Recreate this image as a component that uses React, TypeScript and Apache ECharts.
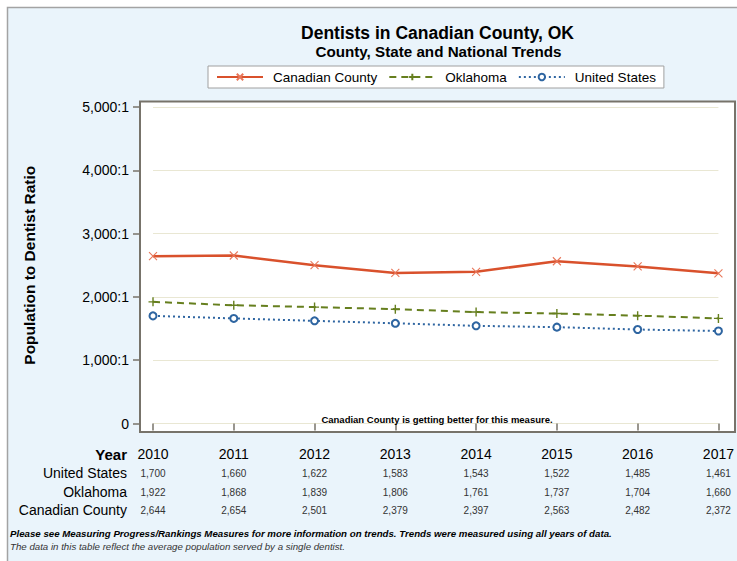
import React, { useEffect, useRef } from "react";
import * as echarts from "echarts";

const years = ["2010", "2011", "2012", "2013", "2014", "2015", "2016", "2017"];
const canadianCounty = [2644, 2654, 2501, 2379, 2397, 2563, 2482, 2372];
const oklahoma = [1922, 1868, 1839, 1806, 1761, 1737, 1704, 1660];
const unitedStates = [1700, 1660, 1622, 1583, 1543, 1522, 1485, 1461];
const seriesNames = ["Canadian County", "Oklahoma", "United States"];
const rowNames = ["United States", "Oklahoma", "Canadian County"];

const fmt = (v: number) => v.toLocaleString("en-US");

const FONT = "'Liberation Sans', Arial, sans-serif";
const RED = "#D9512C";
const OLIVE = "#667F1E";
const BLUE = "#2E65A1";
const FRAME = "#77736A";

const X_SYM = "path://M0,0L10,10M0,10L10,0";
const PLUS_SYM = "path://M5,0L5,10M0,5L10,5";

export default function App() {
  const ref = useRef<HTMLDivElement>(null);
  useEffect(() => {
    if (!ref.current) return;
    const chart = echarts.init(ref.current, undefined, { renderer: "svg" });
    const tableAxis = (data: string[], offset: number, name: string, bold = false, size = 10, color = "#333") => ({
      type: "category",
      data,
      boundaryGap: false,
      position: "bottom",
      offset,
      axisLine: { show: false },
      axisTick: { show: false },
      splitLine: { show: false },
      axisLabel: {
        show: true,
        margin: 0,
        verticalAlign: "middle",
        fontSize: size,
        color,
        fontFamily: FONT,
        interval: 0,
      },
      name,
      nameLocation: "start",
      nameGap: 26,
      nameTextStyle: {
        fontSize: bold ? 15 : 14,
        fontWeight: bold ? "bold" : "normal",
        color: "#000",
        fontFamily: FONT,
        align: "right",
        verticalAlign: "middle",
      },
    });
    chart.setOption({
      animation: false,
      backgroundColor: "#ffffff",
      legend: {
        data: seriesNames,
        left: 208,
        top: 66,
        padding: [4, 8, 4, 8],
        itemWidth: 46,
        itemHeight: 8,
        itemGap: 11,
        backgroundColor: "#ffffff",
        borderColor: "#A0A0A0",
        borderWidth: 1,
        borderRadius: 0,
        textStyle: { fontSize: 13.5, color: "#000", fontFamily: FONT, padding: [0, 0, 0, 5] },
      },
      grid: { left: 153, right: 17, top: 107, bottom: 137.5, containLabel: false },
      xAxis: [
        {
          type: "category",
          data: years,
          boundaryGap: false,
          position: "bottom",
          offset: 8.5,
          axisLine: { show: false },
          axisTick: { show: true, length: 7, inside: false, lineStyle: { color: FRAME, width: 1.5 } },
          axisLabel: { show: false },
          splitLine: { show: false },
        },
        tableAxis(years, 30.5, "Year", true, 14, "#000"),
        tableAxis(unitedStates.map(fmt), 49.5, rowNames[0]),
        tableAxis(oklahoma.map(fmt), 68.5, rowNames[1]),
        tableAxis(canadianCounty.map(fmt), 86.5, rowNames[2]),
      ],
      yAxis: {
        type: "value",
        min: 0,
        max: 5000,
        interval: 1000,
        offset: 13,
        axisLine: { show: false },
        axisTick: { show: true, length: 7, lineStyle: { color: FRAME, width: 1.5 } },
        axisLabel: {
          margin: 11,
          fontSize: 14,
          color: "#000",
          fontFamily: FONT,
          formatter: (v: number) => (v === 0 ? "0" : fmt(v) + ":1"),
        },
        splitLine: { show: true, lineStyle: { color: "#E9E7D3", width: 1 } },
        name: "Population to Dentist Ratio",
        nameLocation: "middle",
        nameGap: 103,
        nameTextStyle: { fontSize: 15.5, fontWeight: "bold", color: "#000", fontFamily: FONT },
      },
      graphic: {
        elements: [
          {
            type: "rect",
            z: -20,
            shape: { x: 7.5, y: 7.5, width: 740, height: 560 },
            style: { fill: "#EAF4FB", stroke: "#A3A3A3", lineWidth: 1.5 },
            silent: true,
          },
          {
            type: "rect",
            z: -10,
            shape: { x: 140, y: 101.5, width: 595, height: 330.5 },
            style: { fill: "#ffffff" },
            silent: true,
          },
          {
            type: "rect",
            z: 100,
            shape: { x: 140, y: 101.5, width: 595, height: 330.5 },
            style: { fill: "none", stroke: FRAME, lineWidth: 2 },
            silent: true,
          },
          {
            type: "text",
            z: 100,
            x: 437.5,
            y: 33,
            style: {
              text: "Dentists in Canadian County, OK",
              fontSize: 17.5,
              fontWeight: "bold",
              fontFamily: FONT,
              fill: "#000",
              align: "center",
              verticalAlign: "middle",
            },
          },
          {
            type: "text",
            z: 100,
            x: 438.5,
            y: 51,
            style: {
              text: "County, State and National Trends",
              fontSize: 15.2,
              fontWeight: "bold",
              fontFamily: FONT,
              fill: "#000",
              align: "center",
              verticalAlign: "middle",
            },
          },
          {
            type: "text",
            z: 100,
            x: 437,
            y: 419,
            style: {
              text: "Canadian County is getting better for this measure.",
              fontSize: 9.5,
              fontWeight: "bold",
              fontFamily: FONT,
              fill: "#000",
              align: "center",
              verticalAlign: "middle",
            },
          },
          {
            type: "text",
            z: 100,
            x: 10,
            y: 533,
            style: {
              text: "Please see Measuring Progress/Rankings Measures for more information on trends. Trends were measured using all years of data.",
              fontSize: 9.7,
              fontWeight: "bold",
              fontStyle: "italic",
              fontFamily: FONT,
              fill: "#000",
              align: "left",
              verticalAlign: "middle",
            },
          },
          {
            type: "text",
            z: 100,
            x: 10,
            y: 546,
            style: {
              text: "The data in this table reflect the average population served by a single dentist.",
              fontSize: 9.7,
              fontStyle: "italic",
              fontFamily: FONT,
              fill: "#333",
              align: "left",
              verticalAlign: "middle",
            },
          },
        ],
      },
      series: [
        {
          name: seriesNames[0],
          type: "line",
          xAxisIndex: 0,
          data: canadianCounty,
          symbol: X_SYM,
          symbolSize: 8,
          showAllSymbol: true,
          lineStyle: { color: RED, width: 2.5, type: "solid" },
          itemStyle: { color: RED, borderColor: "#E8775A", borderWidth: 1.1 },
          z: 5,
        },
        {
          name: seriesNames[1],
          type: "line",
          xAxisIndex: 0,
          data: oklahoma,
          symbol: PLUS_SYM,
          symbolSize: 9,
          showAllSymbol: true,
          lineStyle: { color: OLIVE, width: 2, type: [7, 5] },
          itemStyle: { color: OLIVE, borderColor: OLIVE, borderWidth: 1.4 },
          z: 4,
        },
        {
          name: seriesNames[2],
          type: "line",
          xAxisIndex: 0,
          data: unitedStates,
          symbol: "emptyCircle",
          symbolSize: 7,
          showAllSymbol: true,
          lineStyle: { color: BLUE, width: 2, type: [2, 3] },
          itemStyle: { color: BLUE, borderColor: BLUE, borderWidth: 1.2 },
          z: 3,
        },
      ],
    });
    return () => chart.dispose();
  }, []);
  return (
    <div
      ref={ref}
      style={{ position: "fixed", left: 0, top: 0, width: 737, height: 561 }}
    />
  );
}
